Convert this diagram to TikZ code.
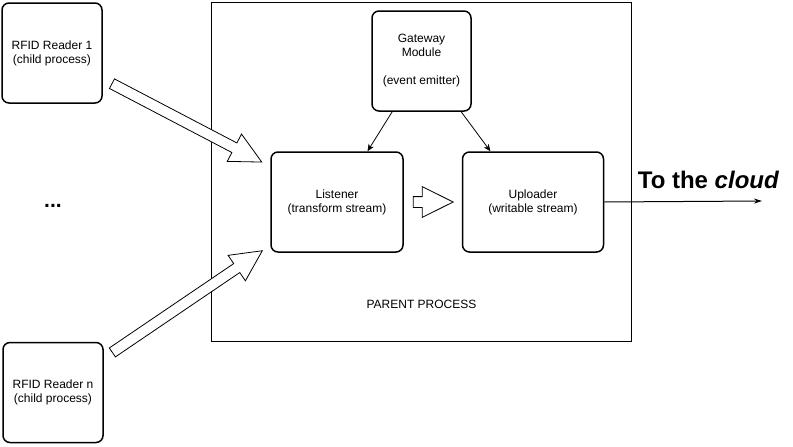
\documentclass[tikz,border=0pt]{standalone}
\usepackage{fontspec}
\setmainfont{Liberation Sans}
\usetikzlibrary{calc}
\usetikzlibrary{positioning}
\usetikzlibrary{shapes.arrows}
\usetikzlibrary{arrows.meta}
\newcommand{\hollowarrow}[3][10pt]{%
    \path let \p1=($(#2)!#1!(#3)$), \p2=($(#3)!#1!(#2)$), \p3=($(\p2)-(\p1)$),
        \n1={atan2(\y3,\x3)}, \n2={veclen(\x3,\y3)} in
        node[fat arrow, rotate=\n1, minimum height=\n2, anchor=tail] at (\p1) {};%
}

\begin{document}
\begin{tikzpicture}[x=1pt,y=-1pt,
    box/.style={draw,line width=1.5pt,rounded corners=7pt,align=center,font=\fontsize{12}{14}\selectfont},
    fat arrow/.style={single arrow,draw,line width=0.8pt,fill=white,inner xsep=0pt,inner ysep=5pt,
        minimum width=30pt,single arrow head extend=10pt,single arrow tip angle=53},
    flow/.style={line width=0.8pt,-{Stealth[length=7pt,width=6pt,inset=2pt]}},
    big label/.style={font=\fontsize{21}{25}\selectfont\bfseries,anchor=base}]
    \useasboundingbox (0,0) rectangle (793,447);

    \node[draw,line width=1pt,minimum width=420pt,minimum height=339pt] (parent) at (421,171.5) {};

    \node[box,minimum width=100pt,minimum height=100pt] (reader1) at (52,53) {RFID Reader 1\\(child process)};
    \node[box,minimum width=100pt,minimum height=100pt] (readern) at (53,392.5) {RFID Reader n\\(child process)};
    \node[big label] (dots) at (53,207) {...};

    \node[box,minimum width=99pt,minimum height=100pt] (gateway) at (421.5,61) {Gateway\\Module\\[14pt](event emitter)};
    \node[box,minimum width=132pt,minimum height=100pt] (listener) at (337,202) {Listener\\(transform stream)};
    \node[box,minimum width=141pt,minimum height=100pt] (uploader) [right=58pt of listener] {Uploader\\(writable stream)};
    \node[font=\fontsize{12}{14}\selectfont] (parentlabel) at (421.5,304.5) {PARENT PROCESS};

    \coordinate (cloud) at (762,201);
    \node[big label,font=\fontsize{24}{28}\selectfont\bfseries] (cloudlabel) at (708.5,188) {To the \textit{cloud}};

    \hollowarrow{reader1.-27}{listener.152}
    \hollowarrow{readern.34}{listener.213}
    \hollowarrow[9pt]{listener.east}{uploader.west}

    \path[flow]
    (gateway.240) edge (listener.59)
    (gateway.-52) edge (uploader.130)
    (uploader.east) edge[line width=1pt,-{Stealth[length=8pt,width=5pt]}] (cloud);
\end{tikzpicture}
\end{document}
